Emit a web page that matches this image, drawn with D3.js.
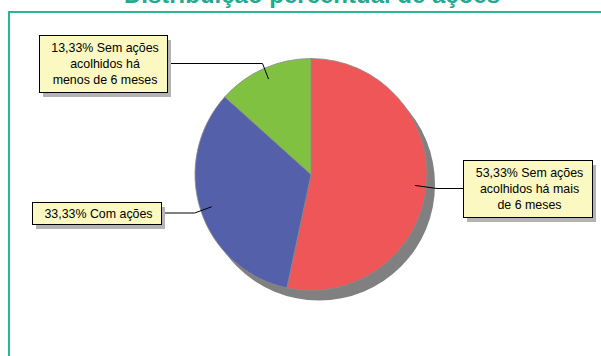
<!DOCTYPE html>
<html><head><meta charset="utf-8">
<script src="https://cdn.jsdelivr.net/npm/d3@7"></script>
<style>html,body{margin:0;padding:0;background:#fff;overflow:hidden}</style>
</head><body>
<script>
const categories = ["Sem ações acolhidos há mais de 6 meses", "Com ações", "Sem ações acolhidos há menos de 6 meses"];
const values = [53.33, 33.33, 13.33];
const labelLines = [
  ["53,33% Sem ações", "acolhidos há mais", "de 6 meses"],
  ["33,33% Com ações"],
  ["13,33% Sem ações", "acolhidos há", "menos de 6 meses"]
];
const colors = ["#EF5658", "#5461AA", "#80C142"];
const title = "Distribuição percentual de ações";

const W = 601, H = 356;
const svg = d3.select("body").append("svg").attr("width", W).attr("height", H);
const font = "'Liberation Sans', Arial, sans-serif";

// title
svg.append("text").attr("x", 312).attr("y", 3).attr("text-anchor", "middle")
  .attr("font-family", font).attr("font-weight", "bold").attr("font-size", 24)
  .attr("fill", "#22AA8E").text(title);

// frame
svg.append("rect").attr("x", 9).attr("y", 12).attr("width", 700).attr("height", 400)
  .attr("fill", "none").attr("stroke", "#2BB594").attr("stroke-width", 2);

const cx = 311, cy = 174.5, r = 116;
const pie = d3.pie().sort(null).value(d => d)(values);
const arc = d3.arc().innerRadius(0).outerRadius(r);

const g = svg.append("g").attr("transform", `translate(${cx},${cy})`);
g.append("circle").attr("cx", 8).attr("cy", 10).attr("r", r).attr("fill", "#808080");
g.selectAll("path.slice").data(pie).enter().append("path")
  .attr("d", arc).attr("fill", (d, i) => colors[i])
  .attr("stroke", "#8a8a8a").attr("stroke-width", 0.8);

// label boxes (layout)
const boxes = [
  {x: 463, y: 160, w: 129, h: 57, side: "right"},
  {x: 32, y: 202, w: 129, h: 22, side: "left"},
  {x: 39, y: 35, w: 128, h: 57, side: "left"}
];
const lineH = 15.8;
const inner = d3.arc().innerRadius(r * 0.9).outerRadius(r * 0.9);

pie.forEach((d, i) => {
  const b = boxes[i];
  const p = inner.centroid(d);
  const sx = cx + p[0], sy = cy + p[1];
  const by = b.y + b.h / 2;
  let pts;
  if (b.side === "left") {
    const ex = i === 2 ? sx - 6 : sx - 17;
    pts = [[sx, sy], [ex, by], [b.x + b.w, by]];
  } else {
    pts = [[sx, sy], [cx + r + 10, by], [b.x, by]];
  }
  svg.append("path").attr("d", d3.line()(pts)).attr("fill", "none")
    .attr("stroke", "#000").attr("stroke-width", 1);
  svg.append("rect").attr("x", b.x + 4).attr("y", b.y + 5).attr("width", b.w).attr("height", b.h)
    .attr("fill", "#B4B4B4");
  svg.append("rect").attr("x", b.x + 0.5).attr("y", b.y + 0.5).attr("width", b.w).attr("height", b.h)
    .attr("fill", "#FBF8C2").attr("stroke", "#000").attr("stroke-width", 1);
  const lines = labelLines[i];
  const t = svg.append("text").attr("font-family", font).attr("font-size", 12.4)
    .attr("text-anchor", "middle").attr("fill", "#000");
  lines.forEach((s, k) => {
    t.append("tspan").attr("x", b.x + b.w / 2 + 2)
      .attr("y", by + (k - (lines.length - 1) / 2) * lineH + 4.5).text(s);
  });
});
</script>
</body></html>
